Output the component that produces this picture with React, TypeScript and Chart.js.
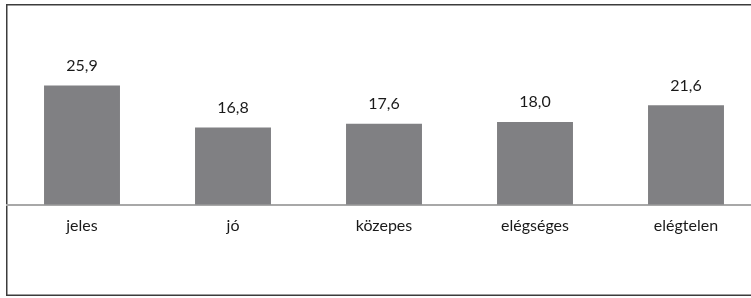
import React, { useEffect, useRef } from "react";
import { Chart, registerables } from "chart.js";

Chart.register(...registerables);

const categories = ["jeles", "jó", "közepes", "elégséges", "elégtelen"];
const values = [25.9, 16.8, 17.6, 18.0, 21.6];
const yMin = 0;
const yMax = 30;

const FONT = "Lato, 'Open Sans', sans-serif";

const framePlugin = {
  id: "frame",
  beforeDraw(chart: any) {
    const ctx = chart.ctx;
    ctx.save();
    ctx.fillStyle = "#ffffff";
    ctx.fillRect(0, 0, chart.width, chart.height);
    ctx.strokeStyle = "#3c3c3c";
    ctx.lineWidth = 1.5;
    ctx.beginPath();
    ctx.moveTo(chart.width + 10, 4.75);
    ctx.lineTo(6.75, 4.75);
    ctx.lineTo(6.75, 295.25);
    ctx.lineTo(chart.width + 10, 295.25);
    ctx.stroke();
    ctx.restore();
  },
};

const labelPlugin = {
  id: "valueLabels",
  afterDatasetsDraw(chart: any) {
    const ctx = chart.ctx;
    const meta = chart.getDatasetMeta(0);
    ctx.save();
    ctx.font = `16px ${FONT}`;
    ctx.fillStyle = "#1a1a1a";
    ctx.textAlign = "center";
    ctx.textBaseline = "alphabetic";
    meta.data.forEach((bar: any, i: number) => {
      const v = chart.data.datasets[0].data[i] as number;
      ctx.fillText(v.toFixed(1).replace(".", ","), bar.x, bar.y - 14.5);
    });
    ctx.restore();
  },
};

export default function App() {
  const ref = useRef<HTMLCanvasElement>(null);

  useEffect(() => {
    document.body.style.margin = "0";
    document.body.style.overflow = "hidden";
    const chart = new Chart(ref.current!, {
      type: "bar",
      data: {
        labels: categories,
        datasets: [
          {
            data: values,
            backgroundColor: "#808083",
            borderWidth: 0,
            categoryPercentage: 1,
            barPercentage: 0.503,
          },
        ],
      },
      options: {
        animation: false,
        responsive: false,
        devicePixelRatio: 1,
        layout: { padding: { left: 6.5, right: 8.5, top: 66.7, bottom: 52 } },
        plugins: {
          legend: { display: false },
          tooltip: { enabled: false },
        },
        scales: {
          x: {
            grid: { display: false, drawTicks: false },
            border: { display: true, color: "#a8a8a8", width: 2 },
            ticks: {
              color: "#1a1a1a",
              font: { family: FONT, size: 16 },
              padding: 11,
            },
          },
          y: {
            display: false,
            min: yMin,
            max: yMax,
          },
        },
      },
      plugins: [framePlugin, labelPlugin],
    });
    return () => chart.destroy();
  }, []);

  return (
    <div style={{ width: 751, height: 298, overflow: "hidden" }}>
      <canvas ref={ref} width={770} height={298} style={{ display: "block" }} />
    </div>
  );
}
